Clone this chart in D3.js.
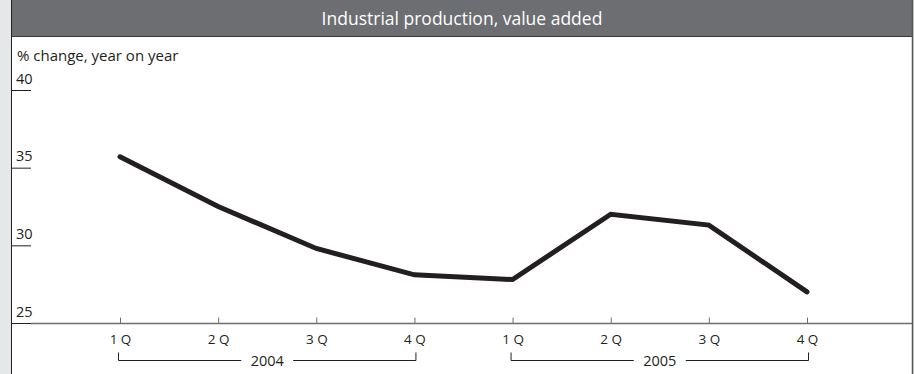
<!DOCTYPE html>
<html>
<head>
<meta charset="utf-8">
<script src="https://cdn.jsdelivr.net/npm/d3@7"></script>
<style>
  body { margin: 0; background: #fff; }
  svg { display: block; font-family: "Open Sans", sans-serif; }
</style>
</head>
<body>
<div id="chart"></div>
<script>
// chart data
const quarters = ["1 Q", "2 Q", "3 Q", "4 Q", "1 Q", "2 Q", "3 Q", "4 Q"];
const values = [35.7, 32.5, 29.8, 28.1, 27.8, 32.0, 31.3, 27.0];
const years = ["2004", "2005"];
const yTicks = [25, 30, 35, 40];

const W = 914, H = 374;
const svg = d3.select("#chart").append("svg")
  .attr("width", W).attr("height", H);

// frame, side strip and title bar
svg.append("rect").attr("x", 0).attr("y", 0).attr("width", W).attr("height", H).attr("fill", "#e6e7e8");
svg.append("rect").attr("x", 12).attr("y", 0).attr("width", 900).attr("height", H).attr("fill", "#fff");
svg.append("rect").attr("x", 12).attr("y", 0).attr("width", 900).attr("height", 36).attr("fill", "#6d6e71");
svg.append("line").attr("x1", 12).attr("x2", 912).attr("y1", 36.5).attr("y2", 36.5).attr("stroke", "#3a3a3c");
svg.append("line").attr("x1", 11.5).attr("x2", 11.5).attr("y1", 0).attr("y2", H).attr("stroke", "#231f20");
svg.append("line").attr("x1", 912.5).attr("x2", 912.5).attr("y1", 0).attr("y2", H).attr("stroke", "#555").attr("stroke-width", 1.5);

svg.append("text")
  .attr("x", 462).attr("y", 25)
  .attr("text-anchor", "middle")
  .attr("fill", "#fff")
  .attr("font-size", 17.5)
  .attr("font-weight", 500)
  .text("Industrial production, value added");

svg.append("text")
  .attr("x", 17).attr("y", 61)
  .attr("fill", "#231f20")
  .attr("font-size", 15)
  .text("% change, year on year");

// scales
const x = d3.scalePoint().domain(d3.range(quarters.length)).range([120, 807]);
const y = d3.scaleLinear().domain([25, 40]).range([323, 90]);

// y ticks: short line with label sitting on it
const yt = svg.append("g");
yt.selectAll("line").data(yTicks).enter().append("line")
  .attr("x1", 12).attr("x2", 31)
  .attr("y1", d => y(d) + 0.5).attr("y2", d => y(d) + 0.5)
  .attr("stroke", "#231f20");
yt.selectAll("text").data(yTicks).enter().append("text")
  .attr("x", 16).attr("y", d => y(d) - 6.5)
  .attr("fill", "#231f20").attr("font-size", 14.5)
  .text(d => d);

// x axis
const xAxis = d3.axisBottom(x).tickSize(0).tickFormat(i => quarters[i]);
const gx = svg.append("g").attr("transform", `translate(0,${y(25) + 0.5})`).call(xAxis);
gx.select(".domain").remove();
svg.append("line")
  .attr("x1", 31).attr("x2", 912)
  .attr("y1", y(25) + 0.5).attr("y2", y(25) + 0.5)
  .attr("stroke", "#6d6e71").attr("stroke-width", 1.5);
gx.selectAll(".tick").append("line")
  .attr("y1", -6).attr("y2", 0)
  .attr("stroke", "#6d6e71");
gx.selectAll(".tick text")
  .attr("y", 20).attr("dy", null)
  .attr("fill", "#231f20")
  .attr("font-size", 13.5)
  .attr("font-family", "'Open Sans', sans-serif");

// year brackets
years.forEach((yr, k) => {
  const x0 = x(k * 4), x1 = x(k * 4 + 3);
  const cx = (x0 + x1) / 2;
  const g = svg.append("g").attr("stroke", "#231f20").attr("fill", "none");
  const by = 360.5;
  g.append("path").attr("d", `M${x0 - 1.5},${by - 8}V${by}H${cx - 26}`);
  g.append("path").attr("d", `M${cx + 26},${by}H${x1 + 1.5}V${by - 8}`);
  svg.append("text")
    .attr("x", cx).attr("y", by + 5)
    .attr("text-anchor", "middle")
    .attr("fill", "#231f20").attr("font-size", 14.5)
    .text(yr);
});

// the series line
const line = d3.line().x((d, i) => x(i)).y(d => y(d));
svg.append("path")
  .datum(values)
  .attr("d", line)
  .attr("fill", "none")
  .attr("stroke", "#231f20")
  .attr("stroke-width", 5)
  .attr("stroke-linejoin", "miter")
  .attr("stroke-linecap", "round");
</script>
</body>
</html>
